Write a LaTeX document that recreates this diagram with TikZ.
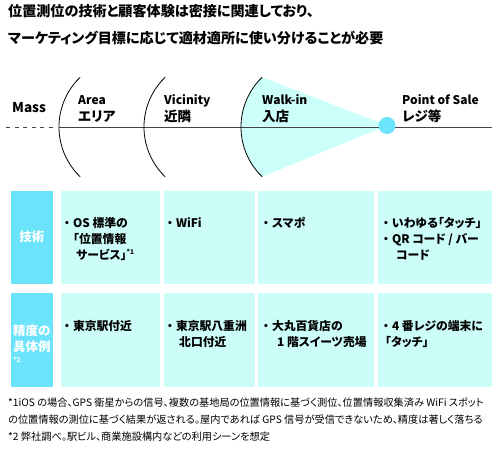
\documentclass[tikz,border=0pt]{standalone}
\usepackage{fontspec}
\setmainfont{Noto Sans CJK JP}[RawFeature=+palt]
\newfontfamily\fullw{Noto Sans CJK JP}
\definecolor{hdr}{HTML}{6BE3FB}
\definecolor{cellc}{HTML}{CCFDF9}
\definecolor{fanc}{HTML}{CCFFFA}
\definecolor{linec}{HTML}{444444}
\tikzset{
  base/.style={anchor=west, inner sep=0pt, text height=0.88em, text depth=0.12em},
  ttl/.style={base, font=\fontsize{14.1}{14}\selectfont\bfseries},
  mass/.style={base, font=\fontsize{13.5}{14}\selectfont\bfseries},
  elbl/.style={base, font=\fontsize{12}{12}\selectfont\bfseries},
  jlbl/.style={base, font=\fontsize{13.5}{14}\selectfont\bfseries},
  txt/.style={base, font=\fontsize{11.8}{12}\selectfont\bfseries},
  hd/.style={base, text=white, font=\fontsize{12.5}{13}\selectfont\bfseries},
  note/.style={base, font=\fontsize{10.2}{11}\selectfont},
  sup/.style={base, font=\fontsize{6.5}{7}\selectfont\bfseries},
  hdrbox/.style={fill=hdr},
  cellbox/.style={fill=cellc},
  zone/.style={line width=0.8pt, black},
}
\newcommand{\supmark}[1]{\raisebox{0.45em}{\fontsize{6.5}{7}\selectfont #1}}
\newcommand{\bul}{{\fullw ・}}
\begin{document}
\begin{tikzpicture}[x=1pt,y=-1pt]
\useasboundingbox (0,0) rectangle (500,448);
% title
\node[ttl] (t1) at (8,13) {位置測位の技術と顧客体験は密接に関連しており、};
\node[ttl] (t2) at (8,40) {マーケティング目標に応じて適材適所に使い分けることが必要};
% fan
\coordinate (a3top) at (262.2,77.2);
\coordinate (pos) at (387,125.5);
\fill[fanc] (a3top) arc[start angle=226.2, end angle=133.8, radius=69] -- (pos) -- cycle;
% axis
\coordinate (d0) at (6,127.5);
\coordinate (d1) at (54,127.5);
\coordinate (s0) at (59,127.5);
\coordinate (s1) at (492,127.5);
\draw[linec, line width=0.8pt, dash pattern=on 4pt off 4.5pt] (d0) -- (d1);
\draw[linec, line width=0.8pt] (s0) -- (s1);
% arcs
\coordinate (a1top) at (80.2,77.2);
\coordinate (a2top) at (165.2,77.2);
\draw[zone] (a1top) arc[start angle=226.2, end angle=133.8, radius=69];
\draw[zone] (a2top) arc[start angle=226.2, end angle=133.8, radius=69];
\draw[zone] (a3top) arc[start angle=226.2, end angle=133.8, radius=69];
\node[circle, fill=hdr, minimum size=17pt, inner sep=0pt] (posdot) at (pos) {};
% labels
\node[mass] (mass) at (12,109) {Mass};
\node[elbl] (area) at (78,101) {Area};
\node[jlbl] (areaj) at (78,117.5) {エリア};
\node[elbl] (vic) at (164,101) {Vicinity};
\node[jlbl] (vicj) at (164,117.5) {近隣};
\node[elbl] (walk) at (262,101) {Walk-in};
\node[jlbl] (walkj) at (262,118) {入店};
\node[elbl] (posl) at (402,101) {Point of Sale};
\node[jlbl] (posj) at (402,118) {レジ等};
% table boxes
\fill[hdrbox] (11,191) rectangle (53,284);
\fill[hdrbox] (11,293) rectangle (53,387);
\foreach \xa/\xb in {61/160,164/254.5,258/374,378/491.5}{
  \fill[cellbox] (\xa,191) rectangle (\xb,284);
  \fill[cellbox] (\xa,293) rectangle (\xb,387);
}
% headers
\node[hd, anchor=center] (h1) at (32,238) {技術};
\node[hd] (h2a) at (13,332) {精度の};
\node[hd] (h2b) at (13,348) {具体例};
\node[sup, text=white] (h2c) at (13,359) {*2};
% row 1
\node[txt] (r1c1a) at (61,224) {\bul OS 標準の};
\node[txt] (r1c1b) at (73,240) {「位置情報};
\node[txt] (r1c1c) at (76,256) {サービス」\supmark{*1}};
\node[txt] (r1c2a) at (164,224) {\bul WiFi};
\node[txt] (r1c3a) at (260,224) {\bul スマポ};
\node[txt] (r1c4a) at (380,224) {\bul いわゆる「タッチ」};
\node[txt] (r1c4b) at (380,240) {\bul QR コード / バー};
\node[txt] (r1c4c) at (396,256) {コード};
% row 2
\node[txt] (r2c1a) at (61,327) {\bul 東京駅付近};
\node[txt] (r2c2a) at (164,327) {\bul 東京駅八重洲};
\node[txt] (r2c2b) at (179,343) {北口付近};
\node[txt] (r2c3a) at (260,327) {\bul 大丸百貨店の};
\node[txt] (r2c3b) at (277,343) {1 階スイーツ売場};
\node[txt] (r2c4a) at (380,327) {\bul 4 番レジの端末に};
\node[txt] (r2c4b) at (385,343) {「タッチ」};
% notes
\node[note] (n1) at (8,403) {*1iOS の場合、GPS 衛星からの信号、複数の基地局の位置情報に基づく測位、位置情報収集済み WiFi スポット};
\node[note] (n2) at (8,420) {の位置情報の測位に基づく結果が返される。屋内であれば GPS 信号が受信できないため、精度は著しく落ちる};
\node[note] (n3) at (8,437) {*2 弊社調べ。駅ビル、商業施設構内などの利用シーンを想定};
\end{tikzpicture}
\end{document}
